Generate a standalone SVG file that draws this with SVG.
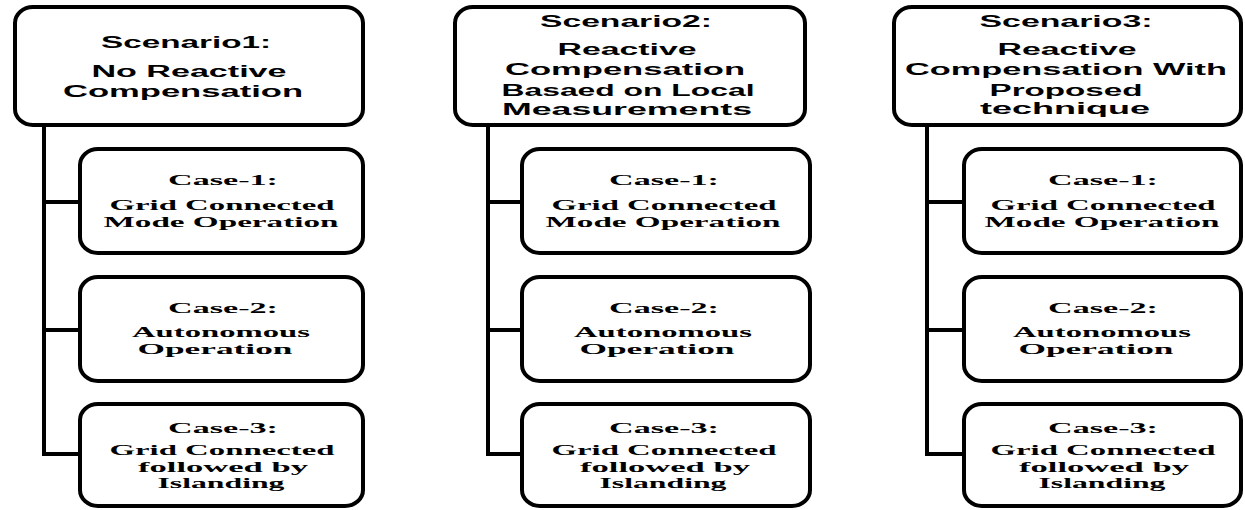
<svg xmlns="http://www.w3.org/2000/svg" width="1245" height="510" viewBox="0 0 1245 510">
<style>
.box{fill:#fff;stroke:#000;stroke-width:4}
.conn{fill:none;stroke:#000;stroke-width:4;stroke-linecap:butt;stroke-linejoin:miter}
.st{font-family:"Liberation Sans",Arial,sans-serif;font-weight:bold;font-size:16px;fill:#000;text-anchor:middle}
.ct{font-family:"Liberation Serif","Times New Roman",serif;font-weight:bold;font-size:15px;fill:#000;text-anchor:middle}
</style>
<rect width="1245" height="510" fill="#fff"/>
<g id="connectors">
<path class="conn" d="M44,127 V454 H80 M44,202 H80 M44,330 H80"/>
<path class="conn" d="M488,127 V454 H522 M488,202 H522 M488,330 H522"/>
<path class="conn" d="M927,127 V454 H964 M927,202 H964 M927,330 H964"/>
</g>
<g id="scenario1">
<rect class="box" x="15" y="7" width="348" height="118" rx="18" ry="16"/>
<text class="st" x="186" y="48" textLength="170" lengthAdjust="spacingAndGlyphs">Scenario1:</text>
<text class="st" x="189" y="77" textLength="195" lengthAdjust="spacingAndGlyphs">No Reactive</text>
<text class="st" x="183" y="97" textLength="240" lengthAdjust="spacingAndGlyphs">Compensation</text>
</g>
<g id="s1case1">
<rect class="box" x="80" y="149" width="283" height="104" rx="18" ry="16"/>
<text class="ct" x="223" y="185" textLength="110" lengthAdjust="spacingAndGlyphs">Case-1:</text>
<text class="ct" x="222" y="210" textLength="225" lengthAdjust="spacingAndGlyphs">Grid Connected</text>
<text class="ct" x="221" y="227" textLength="235" lengthAdjust="spacingAndGlyphs">Mode Operation</text>
</g>
<g id="s1case2">
<rect class="box" x="80" y="277" width="283" height="104" rx="18" ry="16"/>
<text class="ct" x="223" y="313" textLength="110" lengthAdjust="spacingAndGlyphs">Case-2:</text>
<text class="ct" x="221" y="337" textLength="178" lengthAdjust="spacingAndGlyphs">Autonomous</text>
<text class="ct" x="215" y="354" textLength="155" lengthAdjust="spacingAndGlyphs">Operation</text>
</g>
<g id="s1case3">
<rect class="box" x="80" y="404" width="283" height="102" rx="18" ry="16"/>
<text class="ct" x="223" y="433" textLength="110" lengthAdjust="spacingAndGlyphs">Case-3:</text>
<text class="ct" x="222" y="455" textLength="225" lengthAdjust="spacingAndGlyphs">Grid Connected</text>
<text class="ct" x="223" y="472" textLength="170" lengthAdjust="spacingAndGlyphs">followed by</text>
<text class="ct" x="221" y="488" textLength="127" lengthAdjust="spacingAndGlyphs">Islanding</text>
</g>
<g id="scenario2">
<rect class="box" x="455" y="7" width="350" height="118" rx="18" ry="16"/>
<text class="st" x="626" y="27" textLength="172" lengthAdjust="spacingAndGlyphs">Scenario2:</text>
<text class="st" x="627" y="55" textLength="139" lengthAdjust="spacingAndGlyphs">Reactive</text>
<text class="st" x="625" y="75" textLength="240" lengthAdjust="spacingAndGlyphs">Compensation</text>
<text class="st" x="628" y="96" textLength="253" lengthAdjust="spacingAndGlyphs">Basaed on Local</text>
<text class="st" x="627" y="115" textLength="250" lengthAdjust="spacingAndGlyphs">Measurements</text>
</g>
<g id="s2case1">
<rect class="box" x="522" y="149" width="288" height="104" rx="18" ry="16"/>
<text class="ct" x="664" y="185" textLength="110" lengthAdjust="spacingAndGlyphs">Case-1:</text>
<text class="ct" x="664" y="210" textLength="225" lengthAdjust="spacingAndGlyphs">Grid Connected</text>
<text class="ct" x="663" y="227" textLength="235" lengthAdjust="spacingAndGlyphs">Mode Operation</text>
</g>
<g id="s2case2">
<rect class="box" x="522" y="277" width="288" height="104" rx="18" ry="16"/>
<text class="ct" x="664" y="313" textLength="110" lengthAdjust="spacingAndGlyphs">Case-2:</text>
<text class="ct" x="663" y="337" textLength="178" lengthAdjust="spacingAndGlyphs">Autonomous</text>
<text class="ct" x="657" y="354" textLength="155" lengthAdjust="spacingAndGlyphs">Operation</text>
</g>
<g id="s2case3">
<rect class="box" x="522" y="404" width="288" height="102" rx="18" ry="16"/>
<text class="ct" x="664" y="433" textLength="110" lengthAdjust="spacingAndGlyphs">Case-3:</text>
<text class="ct" x="664" y="455" textLength="225" lengthAdjust="spacingAndGlyphs">Grid Connected</text>
<text class="ct" x="665" y="472" textLength="170" lengthAdjust="spacingAndGlyphs">followed by</text>
<text class="ct" x="663" y="488" textLength="127" lengthAdjust="spacingAndGlyphs">Islanding</text>
</g>
<g id="scenario3">
<rect class="box" x="894" y="7" width="347" height="118" rx="18" ry="16"/>
<text class="st" x="1066" y="27" textLength="173" lengthAdjust="spacingAndGlyphs">Scenario3:</text>
<text class="st" x="1067" y="55" textLength="139" lengthAdjust="spacingAndGlyphs">Reactive</text>
<text class="st" x="1066" y="75" textLength="322" lengthAdjust="spacingAndGlyphs">Compensation With</text>
<text class="st" x="1066" y="96" textLength="153" lengthAdjust="spacingAndGlyphs">Proposed</text>
<text class="st" x="1065" y="114" textLength="170" lengthAdjust="spacingAndGlyphs">technique</text>
</g>
<g id="s3case1">
<rect class="box" x="964" y="149" width="277" height="104" rx="18" ry="16"/>
<text class="ct" x="1103" y="185" textLength="110" lengthAdjust="spacingAndGlyphs">Case-1:</text>
<text class="ct" x="1103" y="210" textLength="225" lengthAdjust="spacingAndGlyphs">Grid Connected</text>
<text class="ct" x="1102" y="227" textLength="235" lengthAdjust="spacingAndGlyphs">Mode Operation</text>
</g>
<g id="s3case2">
<rect class="box" x="964" y="277" width="277" height="104" rx="18" ry="16"/>
<text class="ct" x="1103" y="313" textLength="110" lengthAdjust="spacingAndGlyphs">Case-2:</text>
<text class="ct" x="1102" y="337" textLength="178" lengthAdjust="spacingAndGlyphs">Autonomous</text>
<text class="ct" x="1096" y="354" textLength="155" lengthAdjust="spacingAndGlyphs">Operation</text>
</g>
<g id="s3case3">
<rect class="box" x="964" y="404" width="277" height="102" rx="18" ry="16"/>
<text class="ct" x="1103" y="433" textLength="110" lengthAdjust="spacingAndGlyphs">Case-3:</text>
<text class="ct" x="1103" y="455" textLength="225" lengthAdjust="spacingAndGlyphs">Grid Connected</text>
<text class="ct" x="1104" y="472" textLength="170" lengthAdjust="spacingAndGlyphs">followed by</text>
<text class="ct" x="1102" y="488" textLength="127" lengthAdjust="spacingAndGlyphs">Islanding</text>
</g>
</svg>
